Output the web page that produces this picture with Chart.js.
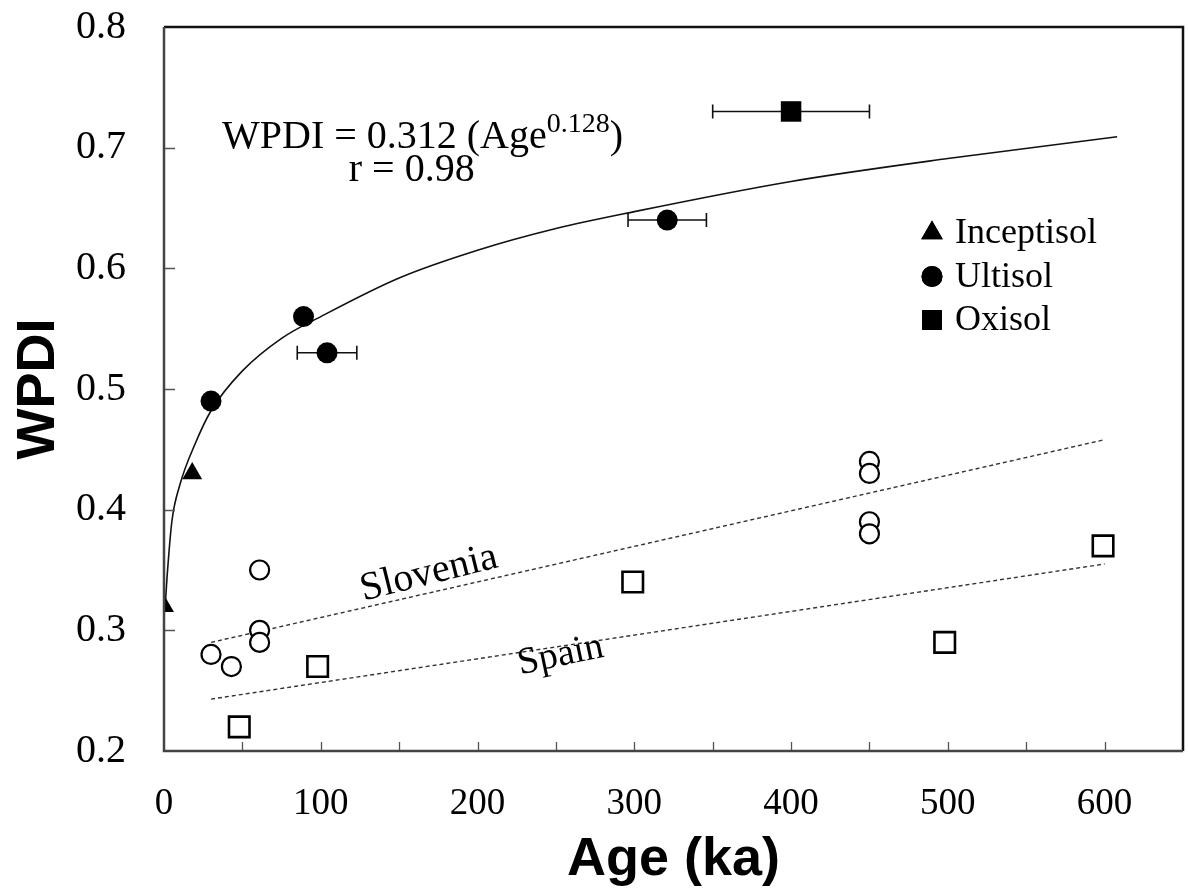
<!DOCTYPE html>
<html>
<head>
<meta charset="utf-8">
<script src="https://cdn.jsdelivr.net/npm/chart.js@4.4.0/dist/chart.umd.min.js"></script>
<style>
  html, body { margin: 0; padding: 0; background: #fff; }
</style>
</head>
<body>
<canvas id="chart" width="1188" height="895"></canvas>
<script>
// data
const inceptisol = [{x: 0, y: 0.32}, {x: 18, y: 0.43}];
const ultisol = [{x: 30, y: 0.49}, {x: 89, y: 0.56}, {x: 104, y: 0.53}, {x: 321, y: 0.64}];
const ultisolXErr = [0, 0, 19, 25];
const oxisol = [{x: 400, y: 0.73}];
const oxisolXErr = [50];
const slovenia = [
    {x: 30, y: 0.28}, {x: 43, y: 0.27}, {x: 61, y: 0.35}, {x: 61, y: 0.30}, {x: 61, y: 0.29},
    {x: 450, y: 0.44}, {x: 450, y: 0.43}, {x: 450, y: 0.39}, {x: 450, y: 0.38}
];
const spain = [{x: 48, y: 0.22}, {x: 98, y: 0.27}, {x: 299, y: 0.34}, {x: 498, y: 0.29}, {x: 599, y: 0.37}];
// fitted power curve
const fitCurve = [
    {x: 0.5, y: 0.315}, {x: 2, y: 0.345}, {x: 5, y: 0.39}, {x: 10, y: 0.42}, {x: 20, y: 0.455},
    {x: 30, y: 0.482}, {x: 50, y: 0.515}, {x: 75, y: 0.542}, {x: 100, y: 0.56}, {x: 150, y: 0.592},
    {x: 200, y: 0.615}, {x: 250, y: 0.633}, {x: 300, y: 0.647}, {x: 400, y: 0.672},
    {x: 500, y: 0.691}, {x: 608, y: 0.709}
];
const sloveniaTrend = [{x: 30, y: 0.29}, {x: 600, y: 0.458}];
const spainTrend = [{x: 30, y: 0.243}, {x: 600, y: 0.355}];

const xMin = 0, xMax = 650, xStep = 50;
const yMin = 0.2, yMax = 0.8, yStep = 0.1;

const legendItems = [
    {label: 'Inceptisol', style: 'triangle', radius: 12.5},
    {label: 'Ultisol', style: 'circle', radius: 10.5},
    {label: 'Oxisol', style: 'rect', radius: 14}
];

const serif = '"Liberation Serif", "Times New Roman", serif';
const sans = '"Liberation Sans", Arial, sans-serif';

const framePlugin = {
    id: 'frame',
    beforeDatasetsDraw(chart) {
        const {ctx, scales: {x, y}} = chart;
        ctx.save();
        // error bars
        ctx.strokeStyle = '#111';
        ctx.lineWidth = 1.6;
        const bars = (pts, errs) => pts.forEach((p, i) => {
            if (!errs[i]) return;
            const py = y.getPixelForValue(p.y);
            const x0 = x.getPixelForValue(p.x - errs[i]);
            const x1 = x.getPixelForValue(p.x + errs[i]);
            ctx.beginPath();
            ctx.moveTo(x0, py); ctx.lineTo(x1, py);
            ctx.moveTo(x0, py - 7); ctx.lineTo(x0, py + 7);
            ctx.moveTo(x1, py - 7); ctx.lineTo(x1, py + 7);
            ctx.stroke();
        });
        bars(ultisol, ultisolXErr);
        bars(oxisol, oxisolXErr);
        ctx.restore();
    },
    afterDatasetsDraw(chart) {
        const {ctx, chartArea: a, scales: {x, y}} = chart;
        ctx.save();
        // inside tick marks
        ctx.strokeStyle = '#555';
        ctx.lineWidth = 1.3;
        ctx.beginPath();
        for (let v = xMin + xStep; v < xMax; v += xStep) {
            const px = Math.round(x.getPixelForValue(v)) + 0.5;
            ctx.moveTo(px, a.bottom); ctx.lineTo(px, a.bottom - 9);
        }
        for (let v = yMin + yStep; v < yMax - 0.01; v += yStep) {
            const py = Math.round(y.getPixelForValue(v)) + 0.5;
            ctx.moveTo(a.left, py); ctx.lineTo(a.left + 11, py);
        }
        ctx.stroke();
        // box
        ctx.lineWidth = 2.5;
        ctx.strokeStyle = '#111';
        ctx.beginPath();
        ctx.moveTo(a.left, a.top); ctx.lineTo(a.right, a.top); ctx.lineTo(a.right, a.bottom);
        ctx.stroke();
        ctx.strokeStyle = '#444';
        ctx.beginPath();
        ctx.moveTo(a.left, a.top); ctx.lineTo(a.left, a.bottom); ctx.lineTo(a.right, a.bottom);
        ctx.stroke();

        // equation
        ctx.fillStyle = '#000';
        ctx.textBaseline = 'alphabetic';
        ctx.font = '40px ' + serif;
        let ex = x.getPixelForValue(37);
        const ey = y.getPixelForValue(0.70);
        const main = 'WPDI = 0.312 (Age';
        ctx.fillText(main, ex, ey);
        ex += ctx.measureText(main).width;
        ctx.font = '28px ' + serif;
        ctx.fillText('0.128', ex, ey - 16);
        ex += ctx.measureText('0.128').width;
        ctx.font = '40px ' + serif;
        ctx.fillText(')', ex, ey);
        ctx.textAlign = 'center';
        ctx.textBaseline = 'middle';
        ctx.fillText('r = 0.98', x.getPixelForValue(158), y.getPixelForValue(0.681));

        // trend labels
        const rotText = (t, dx, dy, ang) => {
            ctx.save();
            ctx.translate(x.getPixelForValue(dx), y.getPixelForValue(dy));
            ctx.rotate(ang * Math.PI / 180);
            ctx.fillText(t, 0, 0);
            ctx.restore();
        };
        ctx.font = '40px ' + serif;
        rotText('Slovenia', 169, 0.347, -14);
        ctx.font = '38px ' + serif;
        rotText('Spain', 253, 0.279, -12);

        // legend
        ctx.textAlign = 'left';
        ctx.font = '36px ' + serif;
        legendItems.forEach((it, i) => {
            const lx = a.left + 768;
            const ly = a.top + 206 + i * 43.5;
            Chart.helpers.drawPoint(ctx, {pointStyle: it.style, radius: it.radius, borderWidth: 0}, lx, ly);
            ctx.fill();
            ctx.fillText(it.label, lx + 23, ly + 1);
        });
        ctx.restore();
    }
};

new Chart(document.getElementById('chart'), {
    type: 'scatter',
    data: {
        datasets: [
            {label: 'fit', data: fitCurve, showLine: true, borderColor: '#111', borderWidth: 1.6,
             pointRadius: 0, cubicInterpolationMode: 'monotone', order: 5},
            {label: 'Slovenia trend', data: sloveniaTrend, showLine: true, borderColor: '#333',
             borderWidth: 1.4, borderDash: [4, 3], pointRadius: 0, order: 5},
            {label: 'Spain trend', data: spainTrend, showLine: true, borderColor: '#333',
             borderWidth: 1.4, borderDash: [4, 3], pointRadius: 0, order: 5},
            {label: 'Slovenia', data: slovenia, pointStyle: 'circle', pointRadius: 9.5,
             backgroundColor: '#fff', borderColor: '#000', borderWidth: 2.2, order: 1},
            {label: 'Spain', data: spain, pointStyle: 'rect', pointRadius: 14.5,
             backgroundColor: '#fff', borderColor: '#000', borderWidth: 2.6, order: 1},
            {label: 'Inceptisol', data: inceptisol, pointStyle: 'triangle', pointRadius: 11.5,
             backgroundColor: '#000', borderColor: '#000', borderWidth: 0, order: 1},
            {label: 'Ultisol', data: ultisol, pointStyle: 'circle', pointRadius: 10.5,
             backgroundColor: '#000', borderColor: '#000', borderWidth: 0, order: 1},
            {label: 'Oxisol', data: oxisol, pointStyle: 'rect', pointRadius: 14.5,
             backgroundColor: '#000', borderColor: '#000', borderWidth: 0, order: 1}
        ]
    },
    options: {
        responsive: false,
        animation: false,
        events: [],
        layout: {autoPadding: false, padding: {top: 27, right: 5, left: 0, bottom: 0}},
        plugins: {legend: {display: false}, tooltip: {enabled: false}},
        scales: {
            x: {
                type: 'linear', min: xMin, max: xMax,
                afterFit: s => { s.height = 144; s.paddingLeft = 0; s.paddingRight = 0; },
                grid: {display: false, drawTicks: false},
                border: {display: false},
                ticks: {
                    stepSize: xStep, padding: 31, color: '#000',
                    font: {family: serif, size: 37},
                    callback: v => (v % 100 === 0 && v <= 600) ? String(v) : ''
                },
                title: {display: true, text: 'Age (ka)', color: '#000',
                        font: {family: sans, size: 54, weight: 'bold', lineHeight: 1},
                        padding: {top: 0, bottom: 8}}
            },
            y: {
                type: 'linear', min: yMin, max: yMax,
                afterFit: s => { s.width = 164; s.paddingTop = 0; s.paddingBottom = 0; },
                grid: {display: false, drawTicks: false},
                border: {display: false},
                ticks: {
                    stepSize: yStep, padding: 38, color: '#000',
                    font: {family: serif, size: 40},
                    callback: v => v.toFixed(1)
                },
                title: {display: true, text: 'WPDI', color: '#000',
                        font: {family: sans, size: 54, weight: 'bold', lineHeight: 1},
                        padding: {top: 12, bottom: 0}}
            }
        }
    },
    plugins: [framePlugin]
});
</script>
</body>
</html>
